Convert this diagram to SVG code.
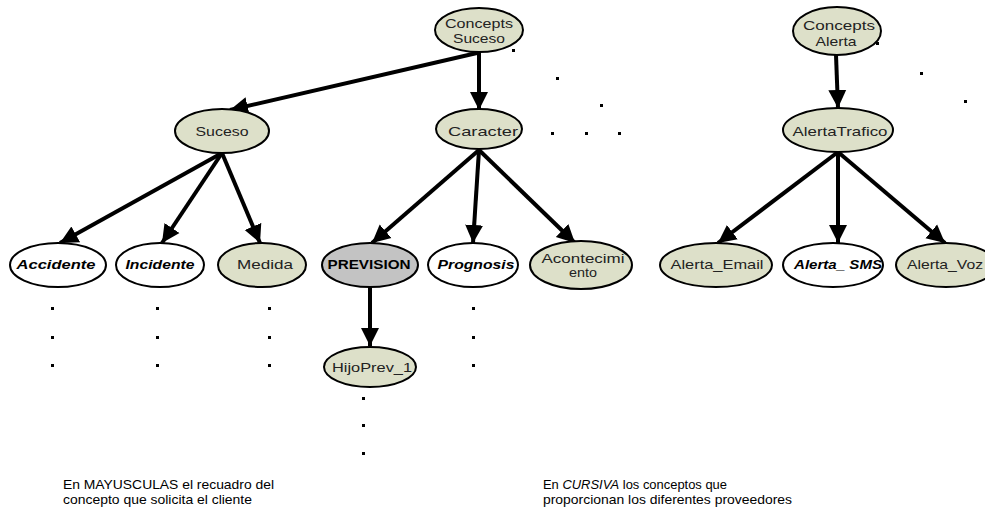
<svg xmlns="http://www.w3.org/2000/svg" width="985" height="510" viewBox="0 0 985 510">
<defs>
<marker id="ah" markerUnits="userSpaceOnUse" markerWidth="20" markerHeight="20" viewBox="0 0 20 20" refX="18" refY="10" orient="auto">
<path d="M0,1 L18,10 L0,19 Z" fill="#000"/>
</marker>
</defs>
<style>
.g{fill:#dde0c9;stroke:#000;stroke-width:2}
.w{fill:#fff;stroke:#000;stroke-width:2}
.p{fill:#c3c3c3;stroke:#000;stroke-width:2}
text{font-family:"Liberation Sans",Arial,sans-serif;font-size:13.5px;fill:#222;text-anchor:middle}
.i{font-style:italic;font-weight:bold;fill:#000}
.b{font-weight:bold;fill:#000}
.n{font-size:13px;text-anchor:start;fill:#000}
.e{stroke:#000;stroke-width:4;fill:none;marker-end:url(#ah)}
.d{fill:#000}
</style>
<g id="connectors">
<line class="e" x1="477" y1="53" x2="230" y2="110"/>
<line class="e" x1="479" y1="52" x2="479" y2="110"/>
<line class="e" x1="222" y1="153" x2="60" y2="243"/>
<line class="e" x1="222" y1="153" x2="162" y2="243"/>
<line class="e" x1="222" y1="153" x2="260" y2="243"/>
<line class="e" x1="479" y1="150" x2="372" y2="243"/>
<line class="e" x1="479" y1="150" x2="473" y2="243"/>
<line class="e" x1="479" y1="150" x2="575" y2="243"/>
<line class="e" x1="836" y1="55" x2="838" y2="108"/>
<line class="e" x1="838" y1="152" x2="718" y2="243"/>
<line class="e" x1="838" y1="152" x2="838" y2="243"/>
<line class="e" x1="838" y1="152" x2="945" y2="243"/>
<line class="e" x1="370" y1="287" x2="370" y2="346"/>
</g>
<g id="n_concepts_suceso"><ellipse class="g" cx="479" cy="30" rx="44" ry="22"/><text x="479" y="28" textLength="68" lengthAdjust="spacingAndGlyphs">Concepts</text><text x="479" y="43" textLength="52" lengthAdjust="spacingAndGlyphs">Suceso</text></g>
<g id="n_concepts_alerta"><ellipse class="g" cx="837" cy="31" rx="44" ry="24"/><text x="839" y="30" textLength="72" lengthAdjust="spacingAndGlyphs">Concepts</text><text x="836" y="46" textLength="41" lengthAdjust="spacingAndGlyphs">Alerta</text></g>
<g id="n_suceso"><ellipse class="g" cx="222" cy="131" rx="47" ry="22"/><text x="222" y="136" textLength="53" lengthAdjust="spacingAndGlyphs">Suceso</text></g>
<g id="n_caracter"><ellipse class="g" cx="479" cy="129" rx="43" ry="20"/><text x="483" y="136" textLength="70" lengthAdjust="spacingAndGlyphs">Caracter</text></g>
<g id="n_alertatrafico"><ellipse class="g" cx="838" cy="130" rx="55" ry="22"/><text x="840" y="136" textLength="95" lengthAdjust="spacingAndGlyphs">AlertaTrafico</text></g>
<g id="n_accidente"><ellipse class="w" cx="58" cy="265" rx="48" ry="22"/><text class="i" x="56" y="269" textLength="79" lengthAdjust="spacingAndGlyphs">Accidente</text></g>
<g id="n_incidente"><ellipse class="w" cx="160" cy="265" rx="44" ry="22"/><text class="i" x="160" y="269" textLength="69" lengthAdjust="spacingAndGlyphs">Incidente</text></g>
<g id="n_medida"><ellipse class="g" cx="262" cy="265" rx="44" ry="22"/><text x="265" y="269" textLength="56" lengthAdjust="spacingAndGlyphs">Medida</text></g>
<g id="n_prevision"><ellipse class="p" cx="370" cy="265" rx="48" ry="22"/><text class="b" x="369" y="269" textLength="83" lengthAdjust="spacingAndGlyphs">PREVISION</text></g>
<g id="n_prognosis"><ellipse class="w" cx="473" cy="265" rx="45" ry="22"/><text class="i" x="476" y="269" textLength="77" lengthAdjust="spacingAndGlyphs">Prognosis</text></g>
<g id="n_acontecimiento"><ellipse class="g" cx="581" cy="265" rx="51" ry="24"/><text x="583" y="263" textLength="83" lengthAdjust="spacingAndGlyphs">Acontecimi</text><text x="583" y="277" textLength="28" lengthAdjust="spacingAndGlyphs">ento</text></g>
<g id="n_hijoprev"><ellipse class="g" cx="370" cy="367" rx="46" ry="20"/><text x="372" y="372" textLength="80" lengthAdjust="spacingAndGlyphs">HijoPrev_1</text></g>
<g id="n_alerta_email"><ellipse class="g" cx="716" cy="265" rx="56" ry="22"/><text x="717" y="269" textLength="93" lengthAdjust="spacingAndGlyphs">Alerta_Email</text></g>
<g id="n_alerta_sms"><ellipse class="w" cx="833" cy="265" rx="50" ry="22"/><text class="i" x="838" y="269" textLength="88" lengthAdjust="spacingAndGlyphs">Alerta_ SMS</text></g>
<g id="n_alerta_voz"><ellipse class="g" cx="946" cy="265" rx="50" ry="22"/><text x="945" y="269" textLength="76" lengthAdjust="spacingAndGlyphs">Alerta_Voz</text></g>
<g id="dots">
<rect class="d" x="512" y="49" width="3" height="3"/>
<rect class="d" x="556" y="77" width="3" height="3"/>
<rect class="d" x="600" y="104" width="3" height="3"/>
<rect class="d" x="551" y="132" width="3" height="3"/>
<rect class="d" x="585" y="132" width="3" height="3"/>
<rect class="d" x="618" y="132" width="3" height="3"/>
<rect class="d" x="876" y="42" width="3" height="3"/>
<rect class="d" x="920" y="72" width="3" height="3"/>
<rect class="d" x="964" y="100" width="3" height="3"/>
<rect class="d" x="51" y="307" width="3" height="3"/>
<rect class="d" x="51" y="336" width="3" height="3"/>
<rect class="d" x="51" y="364" width="3" height="3"/>
<rect class="d" x="156" y="307" width="3" height="3"/>
<rect class="d" x="156" y="336" width="3" height="3"/>
<rect class="d" x="156" y="364" width="3" height="3"/>
<rect class="d" x="268" y="307" width="3" height="3"/>
<rect class="d" x="268" y="336" width="3" height="3"/>
<rect class="d" x="268" y="364" width="3" height="3"/>
<rect class="d" x="472" y="307" width="3" height="3"/>
<rect class="d" x="472" y="336" width="3" height="3"/>
<rect class="d" x="472" y="364" width="3" height="3"/>
<rect class="d" x="362" y="397" width="3" height="3"/>
<rect class="d" x="362" y="424" width="3" height="3"/>
<rect class="d" x="362" y="452" width="3" height="3"/>
</g>
<g id="notes">
<text class="n" x="63" y="489" textLength="211" lengthAdjust="spacingAndGlyphs">En MAYUSCULAS el recuadro del</text>
<text class="n" x="63" y="504" textLength="189" lengthAdjust="spacingAndGlyphs">concepto que solicita el cliente</text>
<text class="n" x="543" y="489" textLength="184" lengthAdjust="spacingAndGlyphs">En <tspan font-style="italic">CURSIVA</tspan> los conceptos que</text>
<text class="n" x="543" y="504" textLength="249" lengthAdjust="spacingAndGlyphs">proporcionan los diferentes proveedores</text>
</g>
</svg>
